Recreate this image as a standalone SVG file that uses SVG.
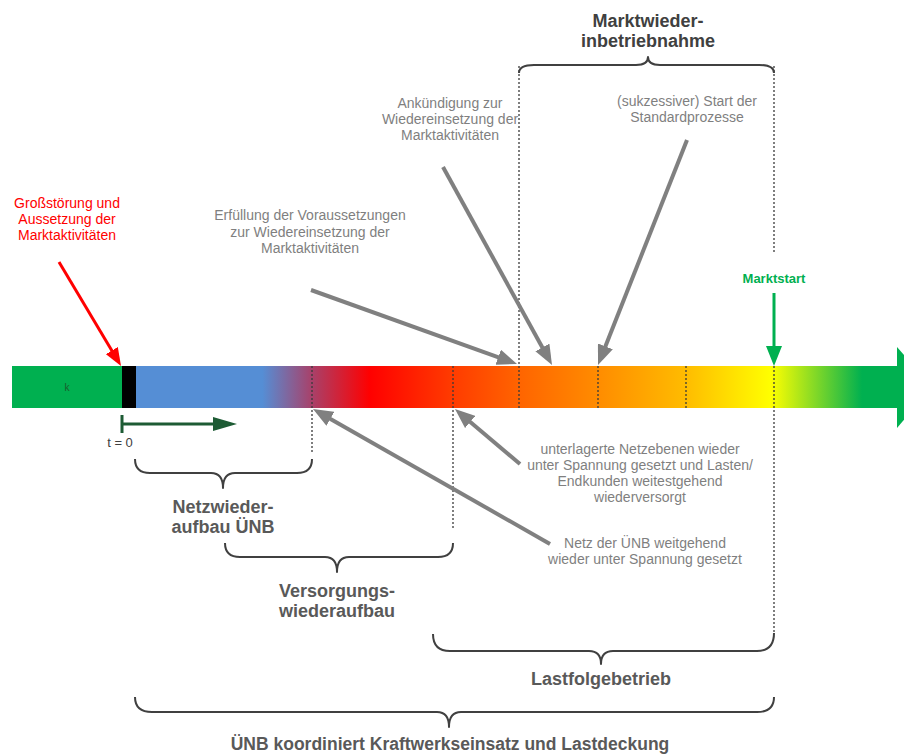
<svg xmlns="http://www.w3.org/2000/svg" width="904" height="756" viewBox="0 0 904 756">
<defs>
<style>
.g{font-family:"Liberation Sans",Arial,sans-serif;font-size:14px;fill:#7f7f7f;text-anchor:middle}
.r{font-family:"Liberation Sans",Arial,sans-serif;font-size:14px;fill:#ff0000;text-anchor:middle}
.b{font-family:"Liberation Sans",Arial,sans-serif;font-size:18px;font-weight:bold;fill:#595959;text-anchor:middle}
.dash{stroke:#3a3a3a;stroke-width:1.3;stroke-dasharray:2 2;fill:none}
.brace{stroke:#404040;stroke-width:2;fill:none;stroke-linejoin:round}
.ga{stroke:#808080;stroke-width:4;fill:none}
</style>
<linearGradient id="barGrad" gradientUnits="userSpaceOnUse" x1="136" y1="0" x2="897" y2="0">
<stop offset="0" stop-color="#558ed5"/>
<stop offset="0.166" stop-color="#558ed5"/>
<stop offset="0.231" stop-color="#a8416a"/>
<stop offset="0.307" stop-color="#ff0000"/>
<stop offset="0.417" stop-color="#ff3c00"/>
<stop offset="0.503" stop-color="#ff6400"/>
<stop offset="0.607" stop-color="#ff8c00"/>
<stop offset="0.723" stop-color="#ffbc00"/>
<stop offset="0.834" stop-color="#ffff00"/>
<stop offset="0.954" stop-color="#00b050"/>
<stop offset="1" stop-color="#00b050"/>
</linearGradient>
<marker id="mGray" markerUnits="userSpaceOnUse" markerWidth="20" markerHeight="16" viewBox="0 0 20 16" refX="10" refY="8" orient="auto">
<path d="M0,0 L20,8 L0,16 z" fill="#808080"/>
</marker>
<marker id="mRed" markerUnits="userSpaceOnUse" markerWidth="18" markerHeight="14" viewBox="0 0 18 14" refX="9" refY="7" orient="auto">
<path d="M0,0 L18,7 L0,14 z" fill="#ff0000"/>
</marker>
<marker id="mGreen" markerUnits="userSpaceOnUse" markerWidth="20" markerHeight="16" viewBox="0 0 20 16" refX="10" refY="8" orient="auto">
<path d="M0,0 L20,8 L0,16 z" fill="#00b050"/>
</marker>
</defs>
<rect width="904" height="756" fill="#ffffff"/>

<g id="timeline">
<rect x="12" y="366" width="110" height="42" fill="#00b050"/>
<rect x="122" y="366" width="14" height="42" fill="#000000"/>
<rect x="136" y="366" width="761" height="42" fill="url(#barGrad)"/>
<polygon points="897,347 932,387 897,428" fill="#00b050"/>
<text x="67" y="391" font-family="Liberation Sans, Arial, sans-serif" font-size="10" fill="#1a5e2e" text-anchor="middle">k</text>
</g>

<g id="guides">
<line class="dash" x1="312" y1="366" x2="312" y2="452"/>
<line class="dash" x1="453" y1="366" x2="453" y2="530"/>
<line class="dash" x1="519" y1="66" x2="519" y2="408"/>
<line class="dash" x1="598" y1="366" x2="598" y2="408"/>
<line class="dash" x1="686" y1="366" x2="686" y2="408"/>
<line class="dash" x1="774" y1="66" x2="774" y2="253"/>
<line class="dash" x1="774" y1="366" x2="774" y2="632"/>
</g>

<g id="t0">
<line x1="122" y1="415" x2="122" y2="433" stroke="#1d5b34" stroke-width="3"/>
<line x1="122" y1="424" x2="215" y2="424" stroke="#1d5b34" stroke-width="3"/>
<polygon points="213,417 237,424 213,431" fill="#1d5b34"/>
<text x="120" y="447" font-family="Liberation Sans, Arial, sans-serif" font-size="13px" fill="#404040" text-anchor="middle">t = 0</text>
</g>

<g id="connectors">
<line class="ga" x1="311" y1="290" x2="507.6" y2="360.6" marker-end="url(#mGray)"/>
<line class="ga" x1="443" y1="167" x2="547.2" y2="356.2" marker-end="url(#mGray)"/>
<line class="ga" x1="687" y1="140" x2="601.7" y2="355.7" marker-end="url(#mGray)"/>
<line class="ga" x1="520" y1="464" x2="462.6" y2="415.5" marker-end="url(#mGray)"/>
<line class="ga" x1="550" y1="544" x2="321.7" y2="413.9" marker-end="url(#mGray)"/>
<line x1="59" y1="262" x2="116.4" y2="358.3" stroke="#ff0000" stroke-width="3" marker-end="url(#mRed)"/>
<line x1="774" y1="293" x2="774" y2="356" stroke="#00b050" stroke-width="3" marker-end="url(#mGreen)"/>
</g>

<g id="stoerung">
<text class="r" x="67" y="208">Großstörung und</text>
<text class="r" x="67" y="224">Aussetzung der</text>
<text class="r" x="67" y="240">Marktaktivitäten</text>
</g>

<g id="erfuellung">
<text class="g" x="310" y="220">Erfüllung der Voraussetzungen</text>
<text class="g" x="310" y="237">zur Wiedereinsetzung der</text>
<text class="g" x="310" y="253">Marktaktivitäten</text>
</g>

<g id="ankuendigung">
<text class="g" x="450" y="108">Ankündigung zur</text>
<text class="g" x="450" y="124">Wiedereinsetzung der</text>
<text class="g" x="450" y="140">Marktaktivitäten</text>
</g>

<g id="standardprozesse">
<text class="g" x="687" y="106">(sukzessiver) Start der</text>
<text class="g" x="687" y="122">Standardprozesse</text>
</g>

<g id="marktstart">
<text x="774" y="283" font-family="Liberation Sans, Arial, sans-serif" font-size="13px" font-weight="bold" fill="#00b050" text-anchor="middle">Marktstart</text>
</g>

<g id="unterlagerte">
<text class="g" x="640" y="454">unterlagerte Netzebenen wieder</text>
<text class="g" x="640" y="470">unter Spannung gesetzt und Lasten/</text>
<text class="g" x="640" y="486">Endkunden weitestgehend</text>
<text class="g" x="640" y="502">wiederversorgt</text>
</g>

<g id="netzUNB">
<text class="g" x="645" y="548">Netz der ÜNB weitgehend</text>
<text class="g" x="645" y="564">wieder unter Spannung gesetzt</text>
</g>

<g id="marktwiederinbetriebnahme">
<path class="brace" d="M519,73 Q519,65 534,65 L636,65 Q648,65 648,57 Q648,65 660,65 L759,65 Q774,65 774,73"/>
<text class="b" x="648" y="27" style="fill:#404040">Marktwieder-</text>
<text class="b" x="648" y="47" style="fill:#404040">inbetriebnahme</text>
</g>

<g id="netzwiederaufbau">
<path class="brace" d="M135,459 Q135,473 150,473 L211,473 Q223,473 223,488 Q223,473 235,473 L297,473 Q312,473 312,459"/>
<text class="b" x="223" y="513">Netzwieder-</text>
<text class="b" x="223" y="533">aufbau ÜNB</text>
</g>

<g id="versorgungswiederaufbau">
<path class="brace" d="M225,543 Q225,557 240,557 L325,557 Q337,557 337,572 Q337,557 349,557 L438,557 Q453,557 453,543"/>
<text class="b" x="337" y="597">Versorgungs-</text>
<text class="b" x="337" y="617">wiederaufbau</text>
</g>

<g id="lastfolgebetrieb">
<path class="brace" d="M433,634 Q433,651 450,651 L589,651 Q601,651 601,664 Q601,651 613,651 L757,651 Q774,651 774,633"/>
<text class="b" x="601" y="685">Lastfolgebetrieb</text>
</g>

<g id="koordination">
<path class="brace" d="M135,697 Q135,712 152,712 L437,712 Q449,712 449,727 Q449,712 461,712 L757,712 Q774,712 774,697"/>
<text class="b" x="450" y="750" style="font-size:17.5px">ÜNB koordiniert Kraftwerkseinsatz und Lastdeckung</text>
</g>
</svg>
